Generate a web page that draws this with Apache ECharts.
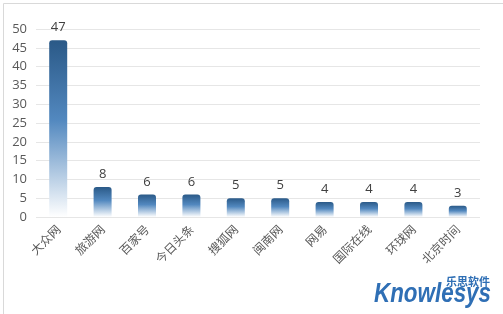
<!DOCTYPE html>
<html><head><meta charset="utf-8">
<script src="https://cdn.jsdelivr.net/npm/echarts@6/dist/echarts.min.js"></script>
<style>html,body{margin:0;padding:0;background:#fff}#c{width:503px;height:314px}</style>
</head><body><div id="c"></div>
<script>
const categories = ['大众网','旅游网','百家号','今日头条','搜狐网','闽南网','网易','国际在线','环球网','北京时间'];
const values = [47, 8, 6, 6, 5, 5, 4, 4, 4, 3];
const yTicks = [0, 5, 10, 15, 20, 25, 30, 35, 40, 45, 50];

const chart = echarts.init(document.getElementById('c'), null, {renderer: 'canvas'});
const grad = new echarts.graphic.LinearGradient(0, 0, 0, 1, [
  {offset: 0, color: '#2a5987'},
  {offset: 0.45, color: '#5288bf'},
  {offset: 1, color: '#ffffff'}
]);
chart.setOption({
  animation: false,
  grid: {left: 36, right: 23, top: 29, bottom: 97},
  xAxis: {
    type: 'category', data: categories,
    axisLine: {show: false}, axisTick: {show: false},
    axisLabel: {rotate: 45, color: '#595959', fontSize: 12, margin: 10,
      fontFamily: '"Noto Sans CJK SC", sans-serif', interval: 0}
  },
  yAxis: {
    type: 'value', min: yTicks[0], max: yTicks[yTicks.length - 1], interval: 5,
    axisLine: {show: false}, axisTick: {show: false},
    axisLabel: {color: '#595959', fontSize: 13, margin: 9, fontFamily: '"Open Sans", "Noto Sans", sans-serif'},
    splitLine: {lineStyle: {color: '#e6e6e6'}}
  },
  series: [{
    type: 'bar', data: values, barWidth: 18,
    itemStyle: {color: grad, borderRadius: [3, 3, 0, 0]},
    label: {show: true, position: 'top', color: '#404040', fontSize: 13, distance: 6,
      fontFamily: '"Open Sans", "Noto Sans", sans-serif'}
  }],
  graphic: [
    {type: 'rect', left: 1, top: 1, shape: {width: 500, height: 311},
     style: {fill: 'none', stroke: '#d9d9d9', lineWidth: 1}, silent: true},
    {type: 'text', x: 374, y: 280, scaleX: 0.8,
     style: {text: 'Knowlesys', fill: '#2f6fb5', font: 'italic bold 28px "Liberation Sans", Arial, sans-serif'}},
    {type: 'text', left: 446, top: 276,
     style: {text: '乐思软件', fill: '#2f6fb5', font: 'bold 11px "Noto Sans CJK SC", sans-serif'}}
  ]
});
</script></body></html>
